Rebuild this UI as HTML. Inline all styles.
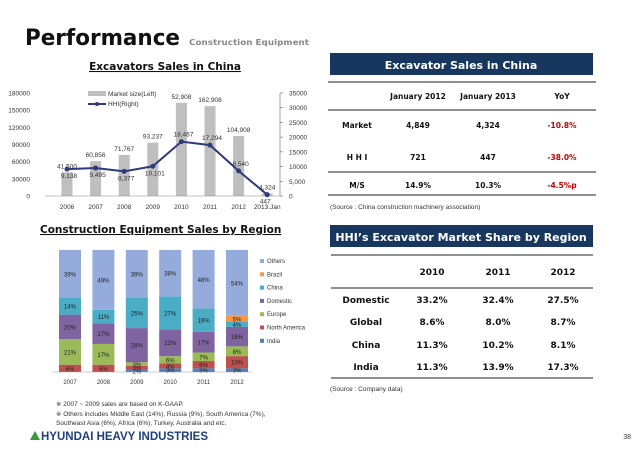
<!DOCTYPE html>
<html><head><meta charset="utf-8"><style>
body{margin:0;background:#fff;width:638px;height:452px;overflow:hidden;font-family:"Liberation Sans",sans-serif}
svg text{font-family:"Liberation Sans","DejaVu Sans",sans-serif}
svg .v{font-family:"DejaVu Sans","Liberation Sans",sans-serif}
</style></head><body>
<svg id="s" width="638" height="452" viewBox="0 0 638 452" xmlns="http://www.w3.org/2000/svg">
<text class="v" x="25" y="45" font-size="22" font-weight="bold" fill="#111" textLength="155" lengthAdjust="spacingAndGlyphs">Performance</text>
<text class="v" x="189" y="45" font-size="8" font-weight="bold" fill="#888" textLength="120" lengthAdjust="spacingAndGlyphs">Construction Equipment</text>

<text class="v" x="165" y="70" font-size="10.5" font-weight="bold" text-anchor="middle" text-decoration="underline" fill="#111">Excavators Sales in China </text>
<g id="c1"></g>
<g id="c2"></g>
<text class="v" x="40" y="233" font-size="10.5" font-weight="bold" text-decoration="underline" fill="#111">Construction Equipment Sales by Region </text>

<!-- table 1 -->
<rect x="330" y="53" width="263" height="22" fill="#17375e"/>
<text class="v" x="461" y="69" font-size="11" font-weight="bold" fill="#fff" text-anchor="middle">Excavator Sales in China</text>
<g class="v" font-size="7.5" font-weight="bold" fill="#111" text-anchor="middle">
<line x1="328" y1="82" x2="596" y2="82" stroke="#222"/><line x1="328" y1="110" x2="596" y2="110" stroke="#222"/>
<line x1="328" y1="172" x2="596" y2="172" stroke="#222"/><line x1="328" y1="195" x2="596" y2="195" stroke="#222"/>
<text class="v" x="418" y="99">January 2012</text><text class="v" x="488" y="99">January 2013</text><text class="v" x="562" y="99">YoY</text>
<text class="v" x="357" y="128">Market</text><text class="v" x="418" y="128">4,849</text><text class="v" x="488" y="128">4,324</text><text class="v" x="562" y="128" fill="#c00000">-10.8%</text>
<text class="v" x="357" y="160">H H I</text><text class="v" x="418" y="160">721</text><text class="v" x="488" y="160">447</text><text class="v" x="562" y="160" fill="#c00000">-38.0%</text>
<text class="v" x="357" y="188">M/S</text><text class="v" x="418" y="188">14.9%</text><text class="v" x="488" y="188">10.3%</text><text class="v" x="562" y="188" fill="#c00000">-4.5%p</text>
</g>
<text x="330" y="209" font-size="6.5" fill="#333">(Source  : China construction machinery association)</text>

<!-- table 2 -->
<rect x="330" y="225" width="263" height="22" fill="#17375e"/>
<text class="v" x="461" y="241" font-size="11" font-weight="bold" fill="#fff" text-anchor="middle">HHI’s Excavator Market Share by Region</text>
<g font-size="9" font-weight="bold" fill="#111" text-anchor="middle">
<line x1="331" y1="255" x2="593" y2="255" stroke="#222"/><line x1="331" y1="288" x2="593" y2="288" stroke="#222"/>
<line x1="331" y1="378" x2="593" y2="378" stroke="#222"/>
<text class="v" x="432" y="275">2010</text><text class="v" x="498" y="275">2011</text><text class="v" x="563" y="275">2012</text>
<text class="v" x="366" y="303">Domestic</text><text class="v" x="432" y="303">33.2%</text><text class="v" x="498" y="303">32.4%</text><text class="v" x="563" y="303">27.5%</text>
<text class="v" x="366" y="325">Global</text><text class="v" x="432" y="325">8.6%</text><text class="v" x="498" y="325">8.0%</text><text class="v" x="563" y="325">8.7%</text>
<text class="v" x="366" y="348">China</text><text class="v" x="432" y="348">11.3%</text><text class="v" x="498" y="348">10.2%</text><text class="v" x="563" y="348">8.1%</text>
<text class="v" x="366" y="370">India</text><text class="v" x="432" y="370">11.3%</text><text class="v" x="498" y="370">13.9%</text><text class="v" x="563" y="370">17.3%</text>
</g>
<text x="330" y="391" font-size="6.5" fill="#333">(Source  : Company data)</text>

<g font-size="6.5" fill="#333">
<text x="56" y="406">※ 2007 ~ 2009 sales are based on K-GAAP.</text>
<text x="56" y="416">※ Others includes Middle East (14%), Russia (9%), South America (7%),</text>
<text x="56" y="425">Southeast Asia (6%), Africa (6%), Turkey, Australia and etc.</text>
</g>
<g>
<polygon points="30,440 35,431 40,440" fill="#3a9a3a"/>
<text x="41" y="440" font-size="11.5" font-weight="bold" fill="#1f3f7a">HYUNDAI HEAVY INDUSTRIES</text>
</g>
<text x="631" y="439" font-size="7" fill="#333" text-anchor="end">38</text>
</svg>
<script>
const years1=["2006","2007","2008","2009","2010","2011","2012","2013.Jan"];
const market=[41500,60856,71767,93237,162908,157000,104908,4324];
const marketLabels=["41,500","60,856","71,767","93,237","52,908","162,908","104,908","4,324"];
const hhi=[9138,9495,8377,10101,18467,17294,8540,447];
const hhiLabels=["9,138","9,495","8,377","10,101","18,467","17,294","8,540","447"];
const leftTicks=[0,30000,60000,90000,120000,150000,180000];
const rightTicks=["0","5,000","10000","15000","20000","25000","30000","35000"];

const years2=["2007","2008","2009","2010","2011","2012"];
const segNames=["India","North America","Europe","Domestic","China","Brazil","Others"];
const segColors=["#4f81bd","#c0504d","#9bbb59","#8064a2","#4bacc6","#f79646","#95abdb"];
const sIndia=[0,0,2,3,3,3];
const sNA=[6,6,3,4,6,10];
const sEurope=[21,17,3,6,7,8];
const sDomestic=[20,17,28,22,17,16];
const sChina=[14,11,25,27,19,4];
const sBrazil=[0,0,0,0,0,5];
const sOthers=[39,49,39,38,48,54];

const NS="http://www.w3.org/2000/svg";
function mk(p,t,a,txt){const e=document.createElementNS(NS,t);for(const k in a)e.setAttribute(k,a[k]);if(txt!==undefined)e.textContent=txt;p.appendChild(e);return e;}

// chart 1
const c1=document.getElementById('c1');
const y0=196,yTop=93;
const yL=v=>y0-(v/180000)*(y0-yTop);
const yR=v=>y0-(v/35000)*(y0-yTop);
const xB=i=>67+i*28.6;
leftTicks.forEach(t=>{const e=mk(c1,'text',{x:30,y:yL(t)+2.5,'font-size':6.5,'text-anchor':'end',fill:'#333'},String(t));
});
rightTicks.forEach((t,i)=>{const e=mk(c1,'text',{x:289,y:yR(i*5000)+2.5,'font-size':6.5,fill:'#333'},t);
});
mk(c1,'line',{x1:280,y1:yTop,x2:280,y2:y0,stroke:'#666','stroke-width':0.6});
for(let i=0;i<8;i++)mk(c1,'line',{x1:280,y1:yR(i*5000),x2:283,y2:yR(i*5000),stroke:'#666','stroke-width':0.6});
market.forEach((v,i)=>{
 const r=mk(c1,'rect',{x:xB(i)-5.5,y:yL(v),width:11,height:y0-yL(v),fill:'#bfbfbf'});
 
 mk(c1,'text',{x:xB(i),y:yL(v)-4,'font-size':6.5,'text-anchor':'middle',fill:'#333'},marketLabels[i]);
 const t=mk(c1,'text',{x:xB(i),y:209,'font-size':6.5,'text-anchor':'middle',fill:'#333'},years1[i]);
 
});
mk(c1,'line',{x1:45,y1:y0,x2:280,y2:y0,stroke:'#888','stroke-width':0.6});
const pts=hhi.map((v,i)=>xB(i)+','+yR(v)).join(' ');
const pl=mk(c1,'polyline',{points:pts,fill:'none',stroke:'#2e3a7a','stroke-width':2});

hhi.forEach((v,i)=>{const d=mk(c1,'circle',{cx:xB(i),cy:yR(v),r:2.5,fill:'#2e3a7a'});
 
 mk(c1,'text',{x:xB(i)+(i==7?-2:2),y:yR(v)+(i>=4&&i<=6?-5:9),'font-size':6.5,'text-anchor':'middle',fill:'#333'},hhiLabels[i]);});
mk(c1,'rect',{x:88,y:91,width:18,height:5,fill:'#bfbfbf'});
mk(c1,'text',{x:108,y:96,'font-size':6.5,fill:'#333'},'Market size(Left)');
mk(c1,'line',{x1:88,y1:104,x2:106,y2:104,stroke:'#2e3a7a','stroke-width':2});
mk(c1,'circle',{cx:97,cy:104,r:2,fill:'#2e3a7a'});
mk(c1,'text',{x:108,y:106,'font-size':6.5,fill:'#333'},'HHI(Right)');

// chart 2
const c2=document.getElementById('c2');
const series=[sIndia,sNA,sEurope,sDomestic,sChina,sBrazil,sOthers];
const b0=372,bTop=250;
const yP=p=>b0-(p/100)*(b0-bTop);
const xC=i=>70+i*33.4;
years2.forEach((yr,i)=>{
 let cum=0;
 series.forEach((s,k)=>{
  const v=s[i]; if(v<=0)return;
  const r=mk(c2,'rect',{x:xC(i)-11,y:yP(cum+v),width:22,height:yP(cum)-yP(cum+v),fill:segColors[k]});
  
  mk(c2,'text',{x:xC(i),y:(yP(cum)+yP(cum+v))/2+2.5,'font-size':6,'text-anchor':'middle',fill:'#222'},v+'%');
  cum+=v;
 });
 const t=mk(c2,'text',{x:xC(i),y:384,'font-size':6,'text-anchor':'middle',fill:'#333'},yr);
 
});
mk(c2,'line',{x1:52,y1:b0,x2:252,y2:b0,stroke:'#999','stroke-width':0.6});
for(let k=6;k>=0;k--){const yy=263+(6-k)*13.3;
 const sw=mk(c2,'rect',{x:260,y:yy-4,width:4,height:4,fill:segColors[k]});
 
 mk(c2,'text',{x:267,y:yy,'font-size':6,fill:'#333'},segNames[k]);}
</script>
</body></html>
